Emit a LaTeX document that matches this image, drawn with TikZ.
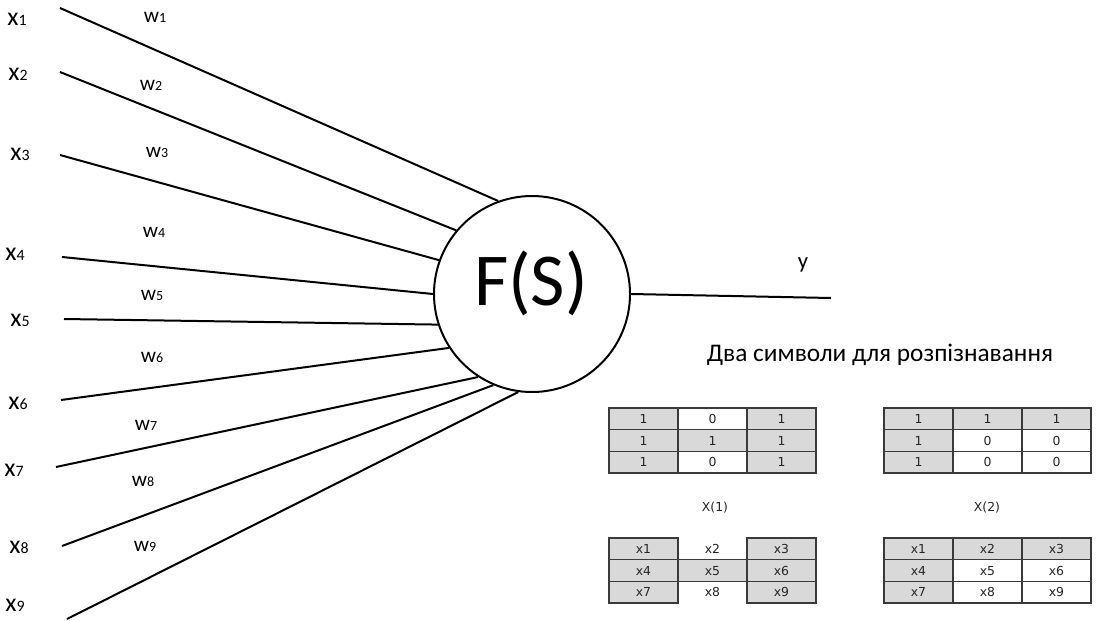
\documentclass[tikz,border=0pt]{standalone}
\usepackage{fontspec}
\setmainfont{Carlito}
\newfontfamily\tabfont{DejaVu Sans}
\definecolor{cellgray}{HTML}{D9D9D9}
\definecolor{cellline}{HTML}{3A3A3A}
\definecolor{celltext}{HTML}{262626}
% input label: x with a small index digit
\newcommand{\xin}[1]{{\fontsize{19.4}{20}\selectfont x}{\fontsize{11.9}{12}\selectfont #1}}
% weight label: w with a small index digit
\newcommand{\win}[1]{{\fontsize{16}{17}\selectfont w}{\fontsize{10.5}{11}\selectfont #1}}
\tikzset{
  wire/.style={line width=1.5pt, black},
  neuron/.style={circle, draw, line width=1.5pt, minimum size=147pt, inner sep=0pt},
  cellbase/.style={rectangle, minimum width=51.75pt, minimum height=16.25pt, inner sep=0pt,
                   text height=6.8pt, text depth=0pt,
                   text=celltext, font=\tabfont\fontsize{9.3}{10}\selectfont},
  gcell/.style={cellbase, draw=cellline, line width=0.8pt, fill=cellgray},
  wcell/.style={cellbase, draw=cellline, line width=0.8pt, fill=white},
  ocell/.style={cellbase},
  caption/.style={text=celltext, font=\tabfont\fontsize{9.3}{10}\selectfont},
}
\begin{document}
\begin{tikzpicture}[x=0.75pt, y=-0.75pt]
\useasboundingbox (0,0) rectangle (1096,621);

% neuron body
\node[neuron] (fs) at (532,294) {};
\node[font=\fontsize{56}{60}\selectfont] (fstext) at (531,283) {F(S)};

% input wires
\foreach \i/\sx/\sy/\ang in {1/60/8/110, 2/60/72/140, 3/60/155/160, 4/62/257/180,
    5/64/319/198, 6/61/400/213, 7/56/467/237, 8/62/546/247, 9/67/619/262} {
  \coordinate (s\i) at (\sx,\sy);
  \draw[wire] (s\i) -- (fs.\ang);
}

% input labels
\foreach \i/\lx/\ly in {1/17/19, 2/18/74, 3/20/154, 4/15/254, 5/20/320,
    6/18/403, 7/14/470, 8/19/547, 9/15/605} {
  \node (x\i) at (\lx,\ly) {\xin{\i}};
}

% weight labels
\foreach \i/\lx/\ly in {1/155/17, 2/151/85, 3/157/152, 4/154/232, 5/152/295,
    6/152/357, 7/146/425, 8/143/481, 9/145/546} {
  \node (w\i) at (\lx,\ly) {\win{\i}};
}

% output
\coordinate (yend) at (831,298);
\draw[wire] (fs.east) -- (yend);
\node[font=\fontsize{17}{18}\selectfont] (ylab) at (803,265) {y};

% caption
\node[font=\fontsize{19}{21}\selectfont] (title) at (880,355) {Два символи для розпізнавання};

% symbol X(1)
\foreach \r/\c/\st/\t in {1/1/gcell/1, 1/2/wcell/0, 1/3/gcell/1,
    2/1/gcell/1, 2/2/gcell/1, 2/3/gcell/1,
    3/1/gcell/1, 3/2/wcell/0, 3/3/gcell/1} {
  \node[\st] (a\r\c) at ({609+69*(\c-0.5)},{408+21.67*(\r-0.5)}) {\t};
}
% symbol X(2)
\foreach \r/\c/\st/\t in {1/1/gcell/1, 1/2/gcell/1, 1/3/gcell/1,
    2/1/gcell/1, 2/2/wcell/0, 2/3/wcell/0,
    3/1/gcell/1, 3/2/wcell/0, 3/3/wcell/0} {
  \node[\st] (b\r\c) at ({884+69*(\c-0.5)},{408+21.67*(\r-0.5)}) {\t};
}

\node[caption] (cap1) at (715,508) {X(1)};
\node[caption] (cap2) at (987,508) {X(2)};

% input layout for X(1)
\foreach \r/\c/\st/\t in {1/1/gcell/x1, 1/2/ocell/x2, 1/3/gcell/x3,
    2/1/gcell/x4, 2/2/gcell/x5, 2/3/gcell/x6,
    3/1/gcell/x7, 3/2/ocell/x8, 3/3/gcell/x9} {
  \node[\st] (c\r\c) at ({609+69*(\c-0.5)},{538+21.67*(\r-0.5)}) {\t};
}
% input layout for X(2)
\foreach \r/\c/\st/\t in {1/1/gcell/x1, 1/2/gcell/x2, 1/3/gcell/x3,
    2/1/gcell/x4, 2/2/wcell/x5, 2/3/wcell/x6,
    3/1/gcell/x7, 3/2/wcell/x8, 3/3/wcell/x9} {
  \node[\st] (d\r\c) at ({884+69*(\c-0.5)},{538+21.67*(\r-0.5)}) {\t};
}
\end{tikzpicture}
\end{document}
